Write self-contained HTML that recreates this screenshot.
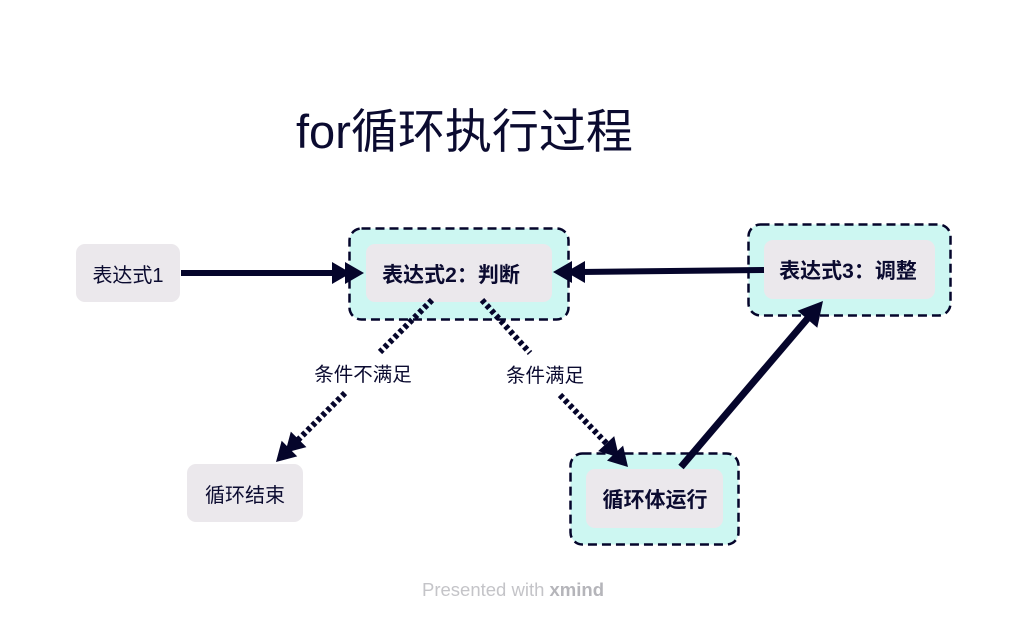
<!DOCTYPE html>
<html><head><meta charset="utf-8"><style>
body{margin:0;background:#fff;}
svg{display:block;}
text{font-family:"Liberation Sans","Noto Sans CJK SC",sans-serif;}
</style></head><body>
<svg width="1027" height="621" viewBox="0 0 1027 621" xmlns="http://www.w3.org/2000/svg">
<defs>
<g id="dh"><polygon points="0,0 -19,-11 -19,11" fill="#05052b"/><polygon points="-13,0 -32,-11 -32,11" fill="#05052b"/></g>
<g id="sh"><polygon points="0,0 -24,-13 -24,13" fill="#05052b"/></g>
</defs>
<text x="296" y="148" font-size="47" fill="#0b0b30">for循环执行过程</text>

<rect x="349.5" y="228.5" width="219" height="91" rx="12" fill="#cdf7f2" stroke="#05052b" stroke-width="2.5" stroke-dasharray="9 5"/>
<rect x="748.5" y="224.5" width="202" height="91" rx="12" fill="#cdf7f2" stroke="#05052b" stroke-width="2.5" stroke-dasharray="9 5"/>
<rect x="570.5" y="453.5" width="168" height="91" rx="12" fill="#cdf7f2" stroke="#05052b" stroke-width="2.5" stroke-dasharray="9 5"/>

<rect x="76" y="244" width="104" height="58" rx="9" fill="#ebe8ec"/>
<rect x="366" y="244" width="186" height="58" rx="9" fill="#ebe8ec"/>
<rect x="764" y="240" width="171" height="59" rx="9" fill="#ebe8ec"/>
<rect x="586" y="469" width="137" height="59" rx="9" fill="#ebe8ec"/>
<rect x="187" y="464" width="116" height="58" rx="9" fill="#ebe8ec"/>

<text x="128" y="282" font-size="20" fill="#0b0b30" text-anchor="middle">表达式1</text>
<text x="451" y="282" font-size="21" font-weight="bold" fill="#0b0b30" text-anchor="middle">表达式2：判断</text>
<text x="848" y="278" font-size="21" font-weight="bold" fill="#0b0b30" text-anchor="middle">表达式3：调整</text>
<text x="655" y="507" font-size="21" font-weight="bold" fill="#0b0b30" text-anchor="middle">循环体运行</text>
<text x="245" y="502" font-size="20" fill="#0b0b30" text-anchor="middle">循环结束</text>

<line x1="181" y1="273" x2="340" y2="273" stroke="#05052b" stroke-width="6"/>
<use href="#dh" transform="translate(364,273)"/>
<line x1="764" y1="270" x2="580" y2="272" stroke="#05052b" stroke-width="6"/>
<use href="#dh" transform="translate(553,272) rotate(180)"/>
<line x1="681" y1="467" x2="808" y2="318" stroke="#05052b" stroke-width="7"/>
<use href="#sh" transform="translate(823,301) rotate(-49.5)"/>

<line x1="432" y1="300" x2="380" y2="352" stroke="#05052b" stroke-width="6" stroke-dasharray="4 3"/>
<line x1="345" y1="393" x2="295" y2="443" stroke="#05052b" stroke-width="6" stroke-dasharray="4 3"/>
<use href="#dh" transform="translate(276,462) rotate(135)"/>
<line x1="482" y1="300" x2="530" y2="353" stroke="#05052b" stroke-width="6" stroke-dasharray="4 3"/>
<line x1="560" y1="395" x2="608" y2="445" stroke="#05052b" stroke-width="6" stroke-dasharray="4 3"/>
<use href="#dh" transform="translate(628,467) rotate(47)"/>

<text x="363" y="381" font-size="19.5" fill="#0b0b30" text-anchor="middle">条件不满足</text>
<text x="545" y="382" font-size="19.5" fill="#0b0b30" text-anchor="middle">条件满足</text>

<text x="513" y="596" font-size="18.5" fill="#c4c4c8" text-anchor="middle">Presented with <tspan font-weight="bold" fill="#b5b5ba">xmind</tspan></text>
</svg>
</body></html>
